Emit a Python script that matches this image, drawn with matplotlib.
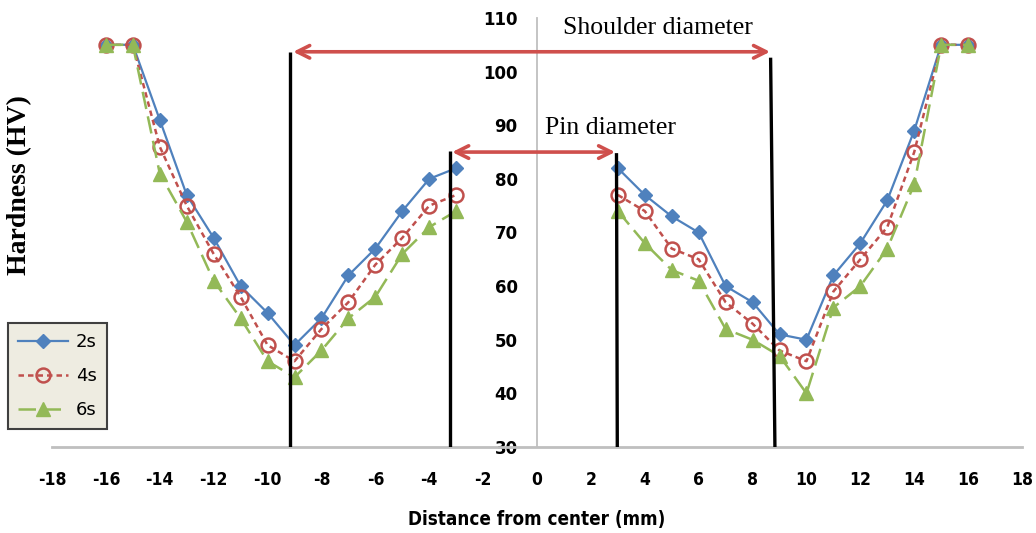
import numpy as np
import matplotlib
matplotlib.use("Agg")
import matplotlib.pyplot as plt

# ---------------- data ----------------
x_left = [-16, -15, -14, -13, -12, -11, -10, -9, -8, -7, -6, -5, -4, -3]
x_right = [3, 4, 5, 6, 7, 8, 9, 10, 11, 12, 13, 14, 15, 16]

hv_2s_left = [105, 105, 91, 77, 69, 60, 55, 49, 54, 62, 67, 74, 80, 82]
hv_2s_right = [82, 77, 73, 70, 60, 57, 51, 50, 62, 68, 76, 89, 105, 105]

hv_4s_left = [105, 105, 86, 75, 66, 58, 49, 46, 52, 57, 64, 69, 75, 77]
hv_4s_right = [77, 74, 67, 65, 57, 53, 48, 46, 59, 65, 71, 85, 105, 105]

hv_6s_left = [105, 105, 81, 72, 61, 54, 46, 43, 48, 54, 58, 66, 71, 74]
hv_6s_right = [74, 68, 63, 61, 52, 50, 47, 40, 56, 60, 67, 79, 105, 105]

series_labels = ["2s", "4s", "6s"]
x_ticks = list(range(-18, 19, 2))
y_ticks = [30, 40, 50, 60, 70, 80, 90, 100, 110]

# annotation geometry (data units)
shoulder_line_x = [(-9.17, -9.17), (8.67, 8.83)]
shoulder_top = [103.7, 102.6]
pin_line_x = [(-3.23, -3.23), (2.95, 2.98)]
pin_top = [85.2, 84.8]
shoulder_arrow = (-9.05, 8.65, 103.7)
pin_arrow = (-3.15, 2.9, 85.0)

# ---------------- figure ----------------
W, H = 1036, 533
fig = plt.figure(figsize=(W / 100, H / 100), dpi=100)
ax = fig.add_axes([52 / W, 1 - 447 / H, 970 / W, (447 - 18) / H])
ax.set_xlim(-18, 18)
ax.set_ylim(30, 110)

blue = "#4F81BD"
red = "#C0504D"
green = "#93B957"

styles = [
    dict(color=blue, lw=1.6, ls="-", marker="D", ms=7.5, mfc=blue, mec=blue),
    dict(color=red, lw=1.8, ls=(0, (2.2, 1.6)), marker="o", ms=10, mfc="none", mec=red, mew=1.8),
    dict(color=green, lw=1.8, ls=(0, (7, 3)), marker="^", ms=10, mfc=green, mec=green),
]
lefts = [hv_2s_left, hv_4s_left, hv_6s_left]
rights = [hv_2s_right, hv_4s_right, hv_6s_right]
handles = []
for i, (l, r, st) in enumerate(zip(lefts, rights, styles)):
    h, = ax.plot(x_left, l, label=series_labels[i], zorder=3 + i, **st)
    ax.plot(x_right, r, zorder=3 + i, **st)
    handles.append(h)

# spines
for s in ["top", "right"]:
    ax.spines[s].set_visible(False)
ax.spines["left"].set_position(("data", 0))
ax.spines["left"].set_color("#BFBFBF")
ax.spines["left"].set_linewidth(1.3)
ax.spines["bottom"].set_color("#BFBFBF")
ax.spines["bottom"].set_linewidth(2.0)

ax.set_xticks(x_ticks)
ax.set_xticklabels([str(t) for t in x_ticks])
ax.set_yticks(y_ticks)
ax.set_yticklabels([str(t) for t in y_ticks])
ax.tick_params(axis="x", length=0, pad=17)
ax.tick_params(axis="y", length=0, pad=14)
for lab in ax.get_xticklabels():
    lab.set_fontfamily("DejaVu Sans")
    lab.set_fontweight("bold")
    lab.set_fontstretch("condensed")
    lab.set_fontsize(12.5)
for lab in ax.get_yticklabels():
    lab.set_fontfamily("DejaVu Sans")
    lab.set_fontweight("bold")
    lab.set_fontsize(12)

# vertical black lines
for (xs, top) in zip(shoulder_line_x + pin_line_x, shoulder_top + pin_top):
    ax.plot(xs, [top, 30], color="black", lw=2.4, zorder=10, solid_capstyle="butt")

# arrows
arrow_color = "#CF4F4C"
for (x0, x1, y) in [shoulder_arrow, pin_arrow]:
    ax.annotate("", xy=(x1, y), xytext=(x0, y),
                arrowprops=dict(arrowstyle="<->,head_length=0.9,head_width=0.45",
                                color=arrow_color, lw=2.6, shrinkA=0, shrinkB=0),
                zorder=11)

ax.text(0.97, 108.1, "Shoulder diameter", fontsize=18.5, family="Liberation Serif",
        ha="left", va="center")
ax.text(0.3, 89.5, "Pin diameter", fontsize=18.5, family="Liberation Serif",
        ha="left", va="center")

fig.text(20 / W, 1 - 185 / H, "Hardness (HV)", rotation=90, fontsize=20,
         family="Liberation Serif", fontweight="bold", ha="center", va="center")
fig.text(537 / W, 1 - 520 / H, "Distance from center (mm)", fontsize=13.5,
         family="DejaVu Sans", fontweight="bold", fontstretch="condensed",
         ha="center", va="center")

leg = fig.legend(handles=handles, labels=series_labels, loc="upper left",
                 bbox_to_anchor=(8 / W, 1 - 323 / H), borderaxespad=0, fontsize=13,
                 handlelength=2.8, labelspacing=0.9, borderpad=0.55,
                 handletextpad=0.4, fancybox=False, framealpha=1)
leg.get_frame().set_facecolor("#EEECE1")
leg.get_frame().set_edgecolor("#404040")
leg.get_frame().set_linewidth(1.5)

fig.savefig("out.png", dpi=100)
